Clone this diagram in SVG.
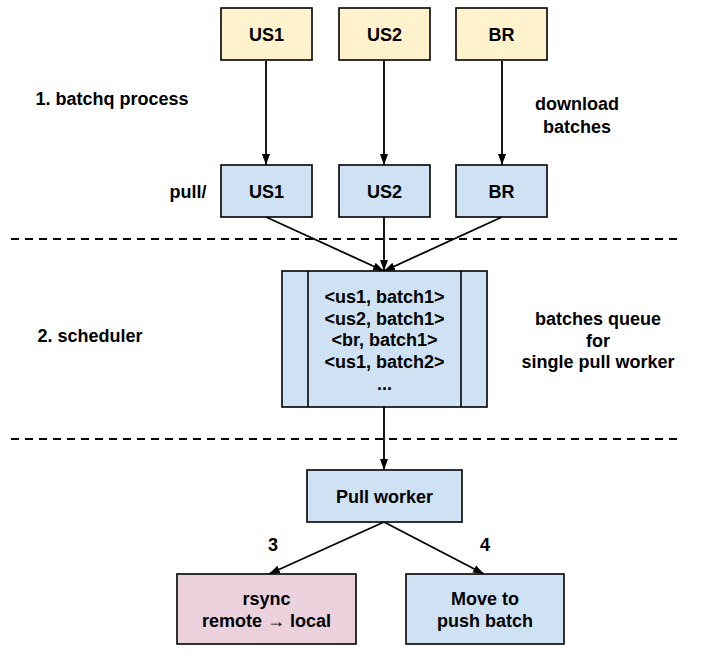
<svg xmlns="http://www.w3.org/2000/svg" width="708" height="665" viewBox="0 0 708 665">
<defs>
<marker id="ah" markerWidth="12" markerHeight="12" refX="11" refY="5" orient="auto" markerUnits="userSpaceOnUse">
<path d="M0,1 L11,5 L0,9 Z" fill="#000"/>
</marker>
<style>
text{font-family:"Liberation Sans",Arial,sans-serif;font-weight:bold;font-size:18px;fill:#000;text-anchor:middle}
.box{stroke:#000;stroke-width:1.6}
.y{fill:#fff2cc}.b{fill:#cfe2f3}.p{fill:#ead1dc}
.c{stroke:#000;stroke-width:1.8;fill:none;marker-end:url(#ah)}
.d{stroke:#000;stroke-width:1.8;stroke-dasharray:8,6;fill:none}
</style>
</defs>
<rect width="708" height="665" fill="#fff"/>
<g id="labels">
<text x="112" y="105">1. batchq process</text>
<text x="188" y="198">pull/</text>
<text x="577" y="110">download</text>
<text x="577" y="133">batches</text>
<text x="90" y="342">2. scheduler</text>
<text x="598" y="325">batches queue</text>
<text x="598" y="347">for</text>
<text x="598" y="368">single pull worker</text>
<text x="273" y="551">3</text>
<text x="485" y="551">4</text>
</g>
<g id="dividers">
<line class="d" x1="11" y1="239" x2="678" y2="239"/>
<line class="d" x1="11" y1="439" x2="678" y2="439"/>
</g>
<g id="connectors">
<line class="c" x1="266" y1="61" x2="266" y2="165"/>
<line class="c" x1="384" y1="61" x2="384" y2="165"/>
<line class="c" x1="502" y1="61" x2="502" y2="165"/>
<line class="c" x1="266" y1="217" x2="384" y2="271"/>
<line class="c" x1="384" y1="217" x2="384" y2="271"/>
<line class="c" x1="502" y1="217" x2="384" y2="271"/>
<line class="c" x1="384" y1="407" x2="384" y2="470"/>
<line class="c" x1="384" y1="522" x2="269" y2="574"/>
<line class="c" x1="384" y1="522" x2="484" y2="574"/>
</g>
<g id="src-us1"><rect class="box y" x="221" y="8" width="91" height="52"/><text x="266.5" y="41">US1</text></g>
<g id="src-us2"><rect class="box y" x="339" y="8" width="91" height="52"/><text x="384.5" y="41">US2</text></g>
<g id="src-br"><rect class="box y" x="456" y="8" width="91" height="52"/><text x="501.5" y="41">BR</text></g>
<g id="pull-us1"><rect class="box b" x="221" y="165" width="91" height="52"/><text x="266.5" y="198">US1</text></g>
<g id="pull-us2"><rect class="box b" x="339" y="165" width="91" height="52"/><text x="384.5" y="198">US2</text></g>
<g id="pull-br"><rect class="box b" x="456" y="165" width="91" height="52"/><text x="501.5" y="198">BR</text></g>
<g id="queue">
<rect class="box b" x="282" y="271" width="205" height="136"/>
<line class="box" x1="308" y1="271" x2="308" y2="407"/>
<line class="box" x1="461" y1="271" x2="461" y2="407"/>
<text x="384.5" y="303">&lt;us1, batch1&gt;</text>
<text x="384.5" y="325">&lt;us2, batch1&gt;</text>
<text x="384.5" y="346">&lt;br, batch1&gt;</text>
<text x="384.5" y="368">&lt;us1, batch2&gt;</text>
<text x="384.5" y="390">...</text>
</g>
<g id="pull-worker"><rect class="box b" x="307" y="470" width="155" height="52"/><text x="384.5" y="503">Pull worker</text></g>
<g id="rsync"><rect class="box p" x="177" y="574" width="179" height="70"/><text x="266.5" y="605">rsync</text><text x="266.5" y="627">remote → local</text></g>
<g id="move"><rect class="box b" x="406" y="574" width="158" height="70"/><text x="485" y="605">Move to</text><text x="485" y="627">push batch</text></g>
</svg>
